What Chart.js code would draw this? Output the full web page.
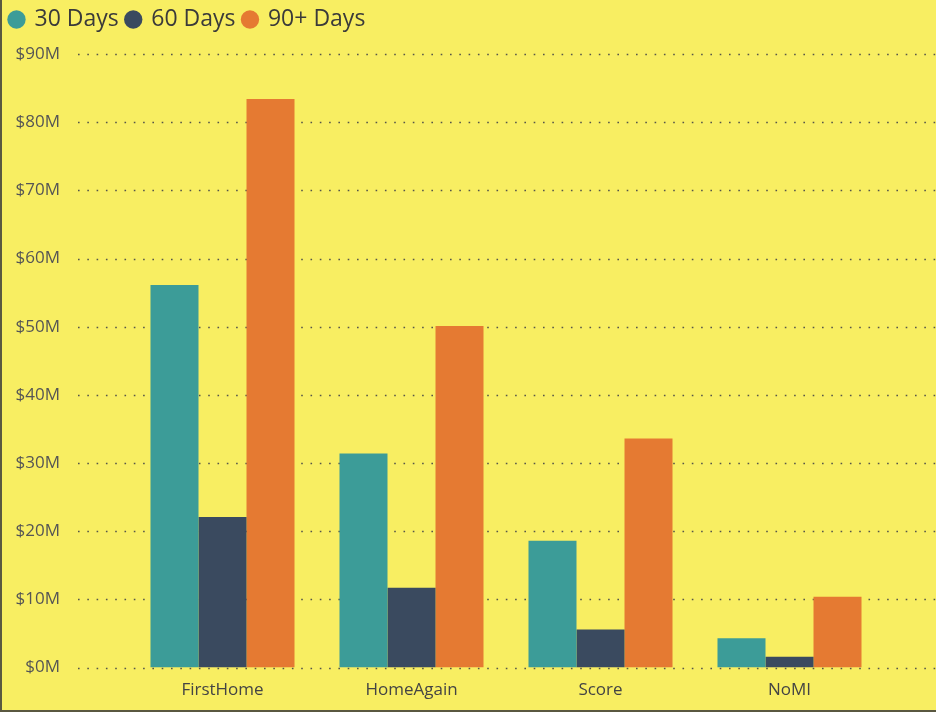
<!DOCTYPE html>
<html>
<head>
<meta charset="utf-8">
<script src="https://cdn.jsdelivr.net/npm/chart.js@4.4.1/dist/chart.umd.min.js"></script>
<style>
  html, body { margin: 0; padding: 0; background: #f8ee62; }
  #wrap { width: 936px; height: 712px; position: relative; box-sizing: border-box; border-left: 2px solid #5a5840; border-bottom: 2px solid #5a5840; }
</style>
</head>
<body>
<div id="wrap"><canvas id="chart"></canvas></div>
<script>
// values in $ millions
var categories = ["FirstHome", "HomeAgain", "Score", "NoMI"];
var days30 = [56.1, 31.4, 18.6, 4.3];
var days60 = [22.1, 11.7, 5.6, 1.6];
var days90 = [83.4, 50.1, 33.6, 10.4];
var yTicks = [0, 10, 20, 30, 40, 50, 60, 70, 80, 90];

var fontName = "'Open Sans', 'Noto Sans', sans-serif";

// dotted gridlines run wider than the category area, like the original
var dottedGrid = {
    id: 'dottedGrid',
    beforeDatasetsDraw: function(chart) {
        var ctx = chart.ctx;
        var y = chart.scales.y;
        ctx.save();
        ctx.strokeStyle = '#55554a';
        ctx.lineWidth = 1.6;
        ctx.setLineDash([1.6, 7.7]);
        yTicks.forEach(function(v) {
            var py = Math.round(y.getPixelForValue(v)) + 0.5;
            ctx.beginPath();
            ctx.moveTo(76, py);
            ctx.lineTo(936, py);
            ctx.stroke();
        });
        ctx.restore();
    }
};

// a bit of room between legend and plot
var legendGap = {
    id: 'legendGap',
    beforeInit: function(chart) {
        var origFit = chart.legend.fit;
        chart.legend.fit = function() {
            origFit.bind(chart.legend)();
            this.height += 13;
        };
    }
};

var ctx = document.getElementById("chart");
new Chart(ctx, {
    type: 'bar',
    data: {
        labels: categories,
        datasets: [{
            label: '30 Days',
            data: days30,
            backgroundColor: '#3c9c98'
        }, {
            label: '60 Days',
            data: days60,
            backgroundColor: '#3a4a5f'
        }, {
            label: '90+ Days',
            data: days90,
            backgroundColor: '#e57a32'
        }]
    },
    options: {
        responsive: true,
        maintainAspectRatio: false,
        animation: false,
        layout: {
            padding: { left: 0, right: 52, top: 0, bottom: 6 }
        },
        datasets: {
            bar: {
                categoryPercentage: 0.762,
                barPercentage: 1.0
            }
        },
        plugins: {
            legend: {
                display: true,
                position: 'top',
                align: 'start',
                labels: {
                    usePointStyle: true,
                    pointStyle: 'circle',
                    boxWidth: 13,
                    boxHeight: 13,
                    padding: 8,
                    color: '#3a3a3a',
                    font: { family: fontName, size: 23 }
                }
            },
            tooltip: { enabled: false }
        },
        scales: {
            x: {
                grid: { display: false },
                border: { display: false },
                ticks: {
                    color: '#444',
                    padding: 4,
                    font: { family: fontName, size: 17 }
                }
            },
            y: {
                min: 0,
                max: 90,
                afterFit: function(scale) {
                    scale.width = 126;
                    scale.paddingTop = 10;
                    scale.paddingBottom = 4;
                },
                afterBuildTicks: function(scale) {
                    scale.ticks = yTicks.map(function(v) { return { value: v }; });
                },
                grid: { display: false },
                border: { display: false },
                ticks: {
                    color: '#555',
                    padding: 60,
                    font: { family: fontName, size: 17 },
                    callback: function(v) { return '$' + v + 'M'; }
                }
            }
        }
    },
    plugins: [dottedGrid, legendGap]
});
</script>
</body>
</html>
